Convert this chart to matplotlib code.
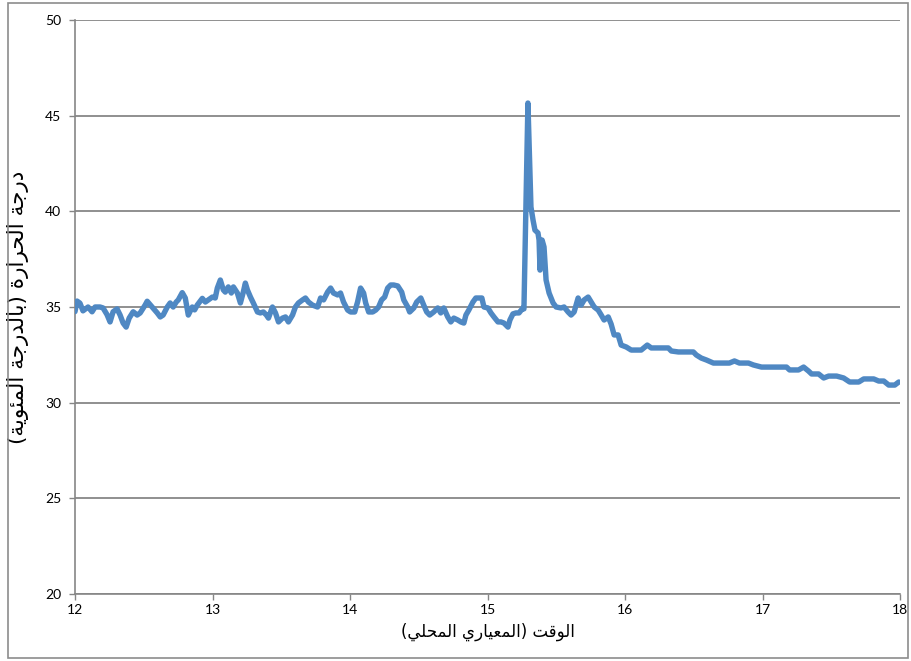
import matplotlib
matplotlib.use("Agg")
import matplotlib.pyplot as plt
from matplotlib.patches import Rectangle

# Temperature log, afternoon (hours, local standard time) and degrees Celsius
hours = [12.000, 12.015, 12.036, 12.058, 12.095, 12.124, 12.146, 12.182, 12.204, 12.233,
         12.255, 12.277, 12.306, 12.328, 12.350, 12.372, 12.394, 12.423, 12.452, 12.474,
         12.510, 12.525, 12.561, 12.598, 12.620, 12.641, 12.671, 12.692, 12.714, 12.736,
         12.751, 12.780, 12.802, 12.824, 12.853, 12.870, 12.889, 12.926, 12.948, 12.969,
         12.999, 13.020, 13.035, 13.057, 13.079, 13.093, 13.115, 13.137, 13.152, 13.181,
         13.203, 13.224, 13.239, 13.254, 13.276, 13.297, 13.327, 13.348, 13.370, 13.392,
         13.407, 13.436, 13.458, 13.480, 13.509, 13.531, 13.552, 13.582, 13.603, 13.625,
         13.655, 13.676, 13.698, 13.727, 13.764, 13.786, 13.808, 13.837, 13.859, 13.880,
         13.910, 13.931, 13.953, 13.983, 14.004, 14.034, 14.055, 14.077, 14.099, 14.114,
         14.136, 14.165, 14.187, 14.208, 14.230, 14.252, 14.274, 14.296, 14.318, 14.347,
         14.376, 14.391, 14.420, 14.434, 14.464, 14.485, 14.515, 14.536, 14.558, 14.580,
         14.609, 14.638, 14.660, 14.682, 14.711, 14.733, 14.755, 14.784, 14.806, 14.828,
         14.843, 14.864, 14.894, 14.915, 14.937, 14.959, 14.974, 15.003, 15.025, 15.047,
         15.076, 15.098, 15.120, 15.149, 15.163, 15.185, 15.207, 15.229, 15.258, 15.265,
         15.294, 15.316, 15.331, 15.345, 15.367, 15.375, 15.382, 15.397, 15.411, 15.426,
         15.448, 15.477, 15.499, 15.535, 15.557, 15.586, 15.608, 15.630, 15.659, 15.681,
         15.703, 15.732, 15.754, 15.776, 15.805, 15.827, 15.848, 15.878, 15.899, 15.921,
         15.950, 15.972, 16.009, 16.045, 16.082, 16.118, 16.162, 16.191, 16.264, 16.315,
         16.337, 16.388, 16.497, 16.519, 16.555, 16.592, 16.643, 16.759, 16.796, 16.832,
         16.898, 16.934, 16.993, 17.175, 17.197, 17.262, 17.299, 17.335, 17.357, 17.408,
         17.445, 17.481, 17.539, 17.590, 17.634, 17.700, 17.736, 17.809, 17.845, 17.882,
         17.918, 17.962, 17.991]
temps = [34.76, 35.31, 35.20, 34.80, 35.00, 34.75, 35.00, 35.00, 34.95, 34.60,
         34.22, 34.75, 34.90, 34.58, 34.16, 33.95, 34.42, 34.75, 34.58, 34.69,
         35.10, 35.30, 35.00, 34.69, 34.48, 34.58, 35.00, 35.21, 35.00, 35.26,
         35.37, 35.75, 35.47, 34.58, 35.00, 34.85, 35.10, 35.45, 35.26, 35.37,
         35.52, 35.47, 35.99, 36.41, 35.89, 35.78, 36.05, 35.73, 36.05, 35.73,
         35.21, 35.78, 36.25, 35.89, 35.52, 35.21, 34.74, 34.69, 34.74, 34.58,
         34.42, 35.00, 34.69, 34.22, 34.42, 34.48, 34.22, 34.58, 35.00, 35.21,
         35.37, 35.47, 35.26, 35.10, 35.00, 35.47, 35.37, 35.78, 35.99, 35.73,
         35.63, 35.73, 35.26, 34.84, 34.74, 34.74, 35.26, 35.99, 35.73, 35.21,
         34.74, 34.74, 34.84, 35.00, 35.37, 35.52, 35.99, 36.15, 36.15, 36.10,
         35.78, 35.37, 35.00, 34.74, 34.95, 35.26, 35.47, 35.10, 34.74, 34.58,
         34.74, 34.95, 34.69, 34.95, 34.48, 34.22, 34.42, 34.32, 34.22, 34.16,
         34.58, 34.84, 35.26, 35.47, 35.47, 35.47, 35.00, 34.95, 34.69, 34.48,
         34.22, 34.22, 34.16, 33.95, 34.32, 34.64, 34.69, 34.69, 34.95, 34.90,
         45.66, 40.23, 39.55, 39.02, 38.87, 38.50, 36.93, 38.50, 38.14, 36.41,
         35.73, 35.21, 35.00, 34.95, 35.00, 34.74, 34.58, 34.74, 35.47, 35.10,
         35.37, 35.52, 35.26, 35.00, 34.84, 34.58, 34.32, 34.48, 34.11, 33.54,
         33.54, 33.01, 32.91, 32.75, 32.75, 32.75, 33.01, 32.86, 32.86, 32.86,
         32.70, 32.65, 32.65, 32.49, 32.33, 32.23, 32.07, 32.07, 32.18, 32.07,
         32.07, 31.97, 31.86, 31.86, 31.71, 31.71, 31.86, 31.65, 31.50, 31.50,
         31.29, 31.39, 31.39, 31.29, 31.08, 31.08, 31.24, 31.24, 31.13, 31.13,
         30.92, 30.92, 31.08]

x_ticks = [12, 13, 14, 15, 16, 17, 18]
y_ticks = [20, 25, 30, 35, 40, 45, 50]
x_title = "الوقت (المعياري المحلي)"
y_title = "درجة الحرارة (بالدرجة المئوية)"

# matplotlib does no Arabic shaping: pick the contextual glyph of each
# letter (isolated, final, initial, medial) and lay the line out right to left
FORMS = {
    "ا": ("\uFE8D", "\uFE8E", None, None),
    "ب": ("\uFE8F", "\uFE90", "\uFE91", "\uFE92"),
    "ت": ("\uFE95", "\uFE96", "\uFE97", "\uFE98"),
    "ة": ("\uFE93", "\uFE94", None, None),
    "ج": ("\uFE9D", "\uFE9E", "\uFE9F", "\uFEA0"),
    "ح": ("\uFEA1", "\uFEA2", "\uFEA3", "\uFEA4"),
    "د": ("\uFEA9", "\uFEAA", None, None),
    "ر": ("\uFEAD", "\uFEAE", None, None),
    "ع": ("\uFEC9", "\uFECA", "\uFECB", "\uFECC"),
    "ق": ("\uFED5", "\uFED6", "\uFED7", "\uFED8"),
    "ل": ("\uFEDD", "\uFEDE", "\uFEDF", "\uFEE0"),
    "م": ("\uFEE1", "\uFEE2", "\uFEE3", "\uFEE4"),
    "و": ("\uFEED", "\uFEEE", None, None),
    "ي": ("\uFEF1", "\uFEF2", "\uFEF3", "\uFEF4"),
    "ئ": ("\uFE89", "\uFE8A", "\uFE8B", "\uFE8C"),
}


def arabic(text):
    out = []
    for i, c in enumerate(text):
        if c not in FORMS:
            out.append(c)
            continue
        prev = text[i - 1] if i > 0 else ""
        nxt = text[i + 1] if i + 1 < len(text) else ""
        join_prev = prev in FORMS and FORMS[prev][2] is not None
        join_next = FORMS[c][2] is not None and nxt in FORMS
        iso, fin, ini, med = FORMS[c]
        if join_prev and join_next:
            out.append(med)
        elif join_prev:
            out.append(fin)
        elif join_next:
            out.append(ini)
        else:
            out.append(iso)
    mirror = {"(": ")", ")": "("}
    return "".join(mirror.get(c, c) for c in reversed(out))


fig = plt.figure(figsize=(9.11, 6.61), dpi=100)
ax = fig.add_axes([75 / 911, 1 - 594 / 661, 825 / 911, 574 / 661])

ax.plot(hours, temps, color="#4F88C3", lw=3.9, solid_joinstyle="round",
        solid_capstyle="round", zorder=3)

ax.set_xlim(12, 18)
ax.set_ylim(20, 50)
ax.set_xticks(x_ticks)
ax.set_yticks(y_ticks)
ax.tick_params(axis="both", labelsize=10, colors="#868686", labelcolor="black",
               length=4, width=1)
ax.tick_params(axis="x", pad=3)
ax.tick_params(axis="y", pad=6)
for lab in ax.get_xticklabels() + ax.get_yticklabels():
    lab.set_family("Lato")

ax.grid(axis="y", color="#878787", lw=1.3)
ax.set_axisbelow(True)
for side in ("top", "right"):
    ax.spines[side].set_visible(False)
for side in ("left", "bottom"):
    ax.spines[side].set_color("#868686")
    ax.spines[side].set_linewidth(1.2)

ax.set_xlabel(arabic(x_title), family="DejaVu Sans", fontsize=12, labelpad=5)
ax.set_ylabel(arabic(y_title), family="DejaVu Sans", fontsize=15.5)
ax.yaxis.set_label_coords(-46 / 825, 0.5)

# outer chart border
fig.add_artist(Rectangle((8 / 911, 3 / 661), 900 / 911, 655 / 661,
                         transform=fig.transFigure, fill=False,
                         edgecolor="#8C8C8C", lw=1.2))

fig.savefig("out.png", dpi=100)
